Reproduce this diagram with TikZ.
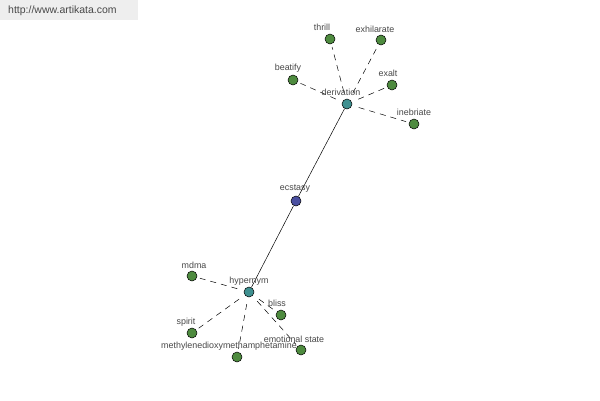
\documentclass[tikz,border=0pt]{standalone}
\usepackage{fontspec}
\setmainfont{Liberation Sans}
\definecolor{leaf}{HTML}{4E8B3F}
\definecolor{mid}{HTML}{3F9090}
\definecolor{root}{HTML}{4A4FA0}
\definecolor{txt}{HTML}{484848}
\definecolor{wm}{HTML}{EEEEEE}
\begin{document}
\begin{tikzpicture}[x=1pt,y=-1pt,
  dot/.style={circle,draw=black,line width=0.5pt,minimum size=10pt,inner sep=0pt},
  leafdot/.style={dot,fill=leaf},
  middot/.style={dot,fill=mid},
  rootdot/.style={dot,fill=root},
  lbl/.style={font=\fontsize{8.9}{9}\selectfont,text=txt,inner sep=0pt},
  rel/.style={dash pattern=on 6pt off 5pt,line width=0.5pt,shorten <=7pt,shorten >=3pt},
  main/.style={line width=0.5pt}]
\useasboundingbox (0,0) rectangle (600,400);
\fill[white] (0,0) rectangle (600,400);
\node[fill=wm,minimum width=138pt,minimum height=20pt,anchor=north west,inner sep=0pt] (wmbox) at (0,0) {};
\node[font=\fontsize{10.5}{11}\selectfont,text=txt,anchor=west,inner sep=0pt] (wmtext) at (8,11) {http://www.artikata.com};
% nodes
\node[rootdot] (ecstasy) at (296,201) {};
\node[middot] (derivation) at (347,104) {};
\node[middot] (hypernym) at (249,292) {};
\node[leafdot] (thrill) at (330,39) {};
\node[leafdot] (exhilarate) at (381,40) {};
\node[leafdot] (beatify) at (293,80) {};
\node[leafdot] (exalt) at (392,85) {};
\node[leafdot] (inebriate) at (414,124) {};
\node[leafdot] (mdma) at (192,276) {};
\node[leafdot] (spirit) at (192,333) {};
\node[leafdot] (methyl) at (237,357) {};
\node[leafdot] (bliss) at (281,315) {};
\node[leafdot] (emo) at (301,350) {};
% edges
\draw[main] (ecstasy) -- (derivation);
\draw[main] (ecstasy) -- (hypernym);
\foreach \n in {thrill,exhilarate,beatify,exalt,inebriate}
  \draw[rel] (derivation) -- (\n);
\foreach \n in {mdma,spirit,methyl,bliss,emo}
  \draw[rel] (hypernym) -- (\n);
% labels
\node[lbl] (l-ecstasy) at (295,189) {ecstasy};
\node[lbl] (l-derivation) at (341,92) {derivation};
\node[lbl] (l-hypernym) at (249,281) {hypernym};
\node[lbl] (l-thrill) at (322,27) {thrill};
\node[lbl] (l-exhilarate) at (375,29) {exhilarate};
\node[lbl] (l-beatify) at (288,68) {beatify};
\node[lbl] (l-exalt) at (388,73) {exalt};
\node[lbl] (l-inebriate) at (414,112) {inebriate};
\node[lbl] (l-mdma) at (194,265) {mdma};
\node[lbl] (l-spirit) at (186,322) {spirit};
\node[lbl] (l-methyl) at (229,346) {methylenedioxymethamphetamine};
\node[lbl] (l-bliss) at (277,303) {bliss};
\node[lbl] (l-emo) at (294,339) {emotional state};
\end{tikzpicture}
\end{document}
